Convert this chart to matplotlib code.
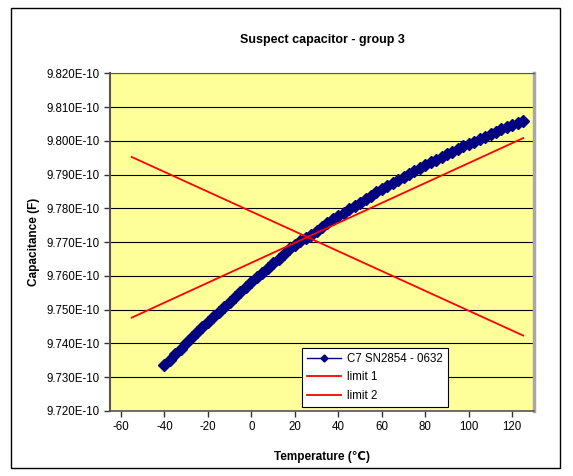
import numpy as np
import matplotlib
matplotlib.use("Agg")
import matplotlib.pyplot as plt
from matplotlib.patches import Rectangle
from matplotlib.ticker import FuncFormatter

plt.rcParams['font.family'] = ['Liberation Sans', 'DejaVu Sans']
plt.rcParams['axes.unicode_minus'] = False

# measured capacitance, in units of 1E-10 F
temp = [-40, -37.5, -35, -32.5, -30, -27.5, -25, -22.5, -20, -17.5, -15, -12.5,
        -10, -7.5, -5, -2.5, 0, 2.5, 5, 7.5, 10, 12.5, 15, 17.5, 20, 22.5, 25,
        27.5, 30, 32.5, 35, 37.5, 40, 42.5, 45, 47.5, 50, 52.5, 55, 57.5, 60,
        62.5, 65, 67.5, 70, 72.5, 75, 77.5, 80, 82.5, 85, 87.5, 90, 92.5, 95,
        97.5, 100, 102.5, 105, 107.5, 110, 112.5, 115, 117.5, 120, 122.5, 125]
cap = [9.7335, 9.7350, 9.7368, 9.7384, 9.7402, 9.7418, 9.7434, 9.7449, 9.7464,
       9.7479, 9.7494, 9.7508, 9.7523, 9.7538, 9.7553, 9.7567, 9.7581, 9.7596,
       9.7609, 9.7623, 9.7637, 9.7650, 9.7666, 9.7678, 9.7690, 9.7702, 9.7712,
       9.7722, 9.7734, 9.7745, 9.7756, 9.7767, 9.7777, 9.7787, 9.7797, 9.7807,
       9.7817, 9.7827, 9.7837, 9.7847, 9.7858, 9.7866, 9.7874, 9.7883, 9.7893,
       9.7902, 9.7911, 9.7920, 9.7929, 9.7936, 9.7944, 9.7951, 9.7960, 9.7968,
       9.7976, 9.7985, 9.7990, 9.7997, 9.8004, 9.8012, 9.8019, 9.8027, 9.8034,
       9.8040, 9.8046, 9.8053, 9.8060]

# limit lines (endpoints)
limit_t = [-55, 125]
limit1 = [9.7476, 9.8008]
limit2 = [9.7952, 9.7423]

x_ticks = [-60, -40, -20, 0, 20, 40, 60, 80, 100, 120]
y_ticks = [9.72, 9.73, 9.74, 9.75, 9.76, 9.77, 9.78, 9.79, 9.80, 9.81, 9.82]

scale = 1e-10

fig = plt.figure(figsize=(5.73, 4.76), dpi=100)
ax = fig.add_axes([0.192, 0.137, 0.740, 0.709])
ax.set_facecolor('#FFFF99')

ax.plot(temp, np.array(cap) * scale, color='#000080', marker='D', markersize=6.5,
        lw=2.5, label='C7 SN2854 - 0632', zorder=3)
ax.plot(limit_t, np.array(limit1) * scale, color='red', lw=1.3, label='limit 1', zorder=4)
ax.plot(limit_t, np.array(limit2) * scale, color='red', lw=1.3, label='limit 2', zorder=4)

ax.set_xlim(-65, 130)
ax.set_ylim(9.72e-10, 9.82e-10)
ax.set_xticks(x_ticks)
ax.set_yticks([v * scale for v in y_ticks])
ax.yaxis.set_major_formatter(FuncFormatter(lambda v, p: f"{v / scale:.3f}E-10"))
ax.grid(axis='y', color='black', lw=0.8)
ax.set_axisbelow(True)
ax.tick_params(axis='both', labelsize=8.3, direction='out', length=4, width=1,
               color='#333333')

ax.spines['left'].set_color('#555555')
ax.spines['left'].set_linewidth(1.5)
ax.spines['bottom'].set_color('#555555')
ax.spines['bottom'].set_linewidth(1.2)
ax.spines['top'].set_color('#555555')
ax.spines['right'].set_color('#A8A8A8')
ax.spines['right'].set_linewidth(2.5)

leg = ax.legend(loc='lower left', bbox_to_anchor=(0.452, 0.012), fontsize=8.3,
                fancybox=False, framealpha=1, edgecolor='black', borderaxespad=0,
                handlelength=3, markerscale=0.55, borderpad=0.45, labelspacing=0.55,
                handletextpad=0.5)
leg.get_frame().set_linewidth(0.8)
for h in leg.get_lines()[:1]:
    h.set_linewidth(1.0)

fig.text(0.562, 0.916, 'Suspect capacitor - group 3', ha='center', va='center',
         fontsize=9, fontweight='bold')
fig.text(0.562, 0.040, 'Temperature (\u2103)', ha='center', va='center',
         fontsize=8.5, fontweight='bold')
fig.text(0.060, 0.492, 'Capacitance (F)', ha='center', va='center',
         fontsize=8.5, fontweight='bold', rotation=90)

fig.patches.append(Rectangle((0.0192, 0.0168), 0.958, 0.966, transform=fig.transFigure,
                             fill=False, edgecolor='black', lw=1))

fig.savefig('out.png', dpi=100)
